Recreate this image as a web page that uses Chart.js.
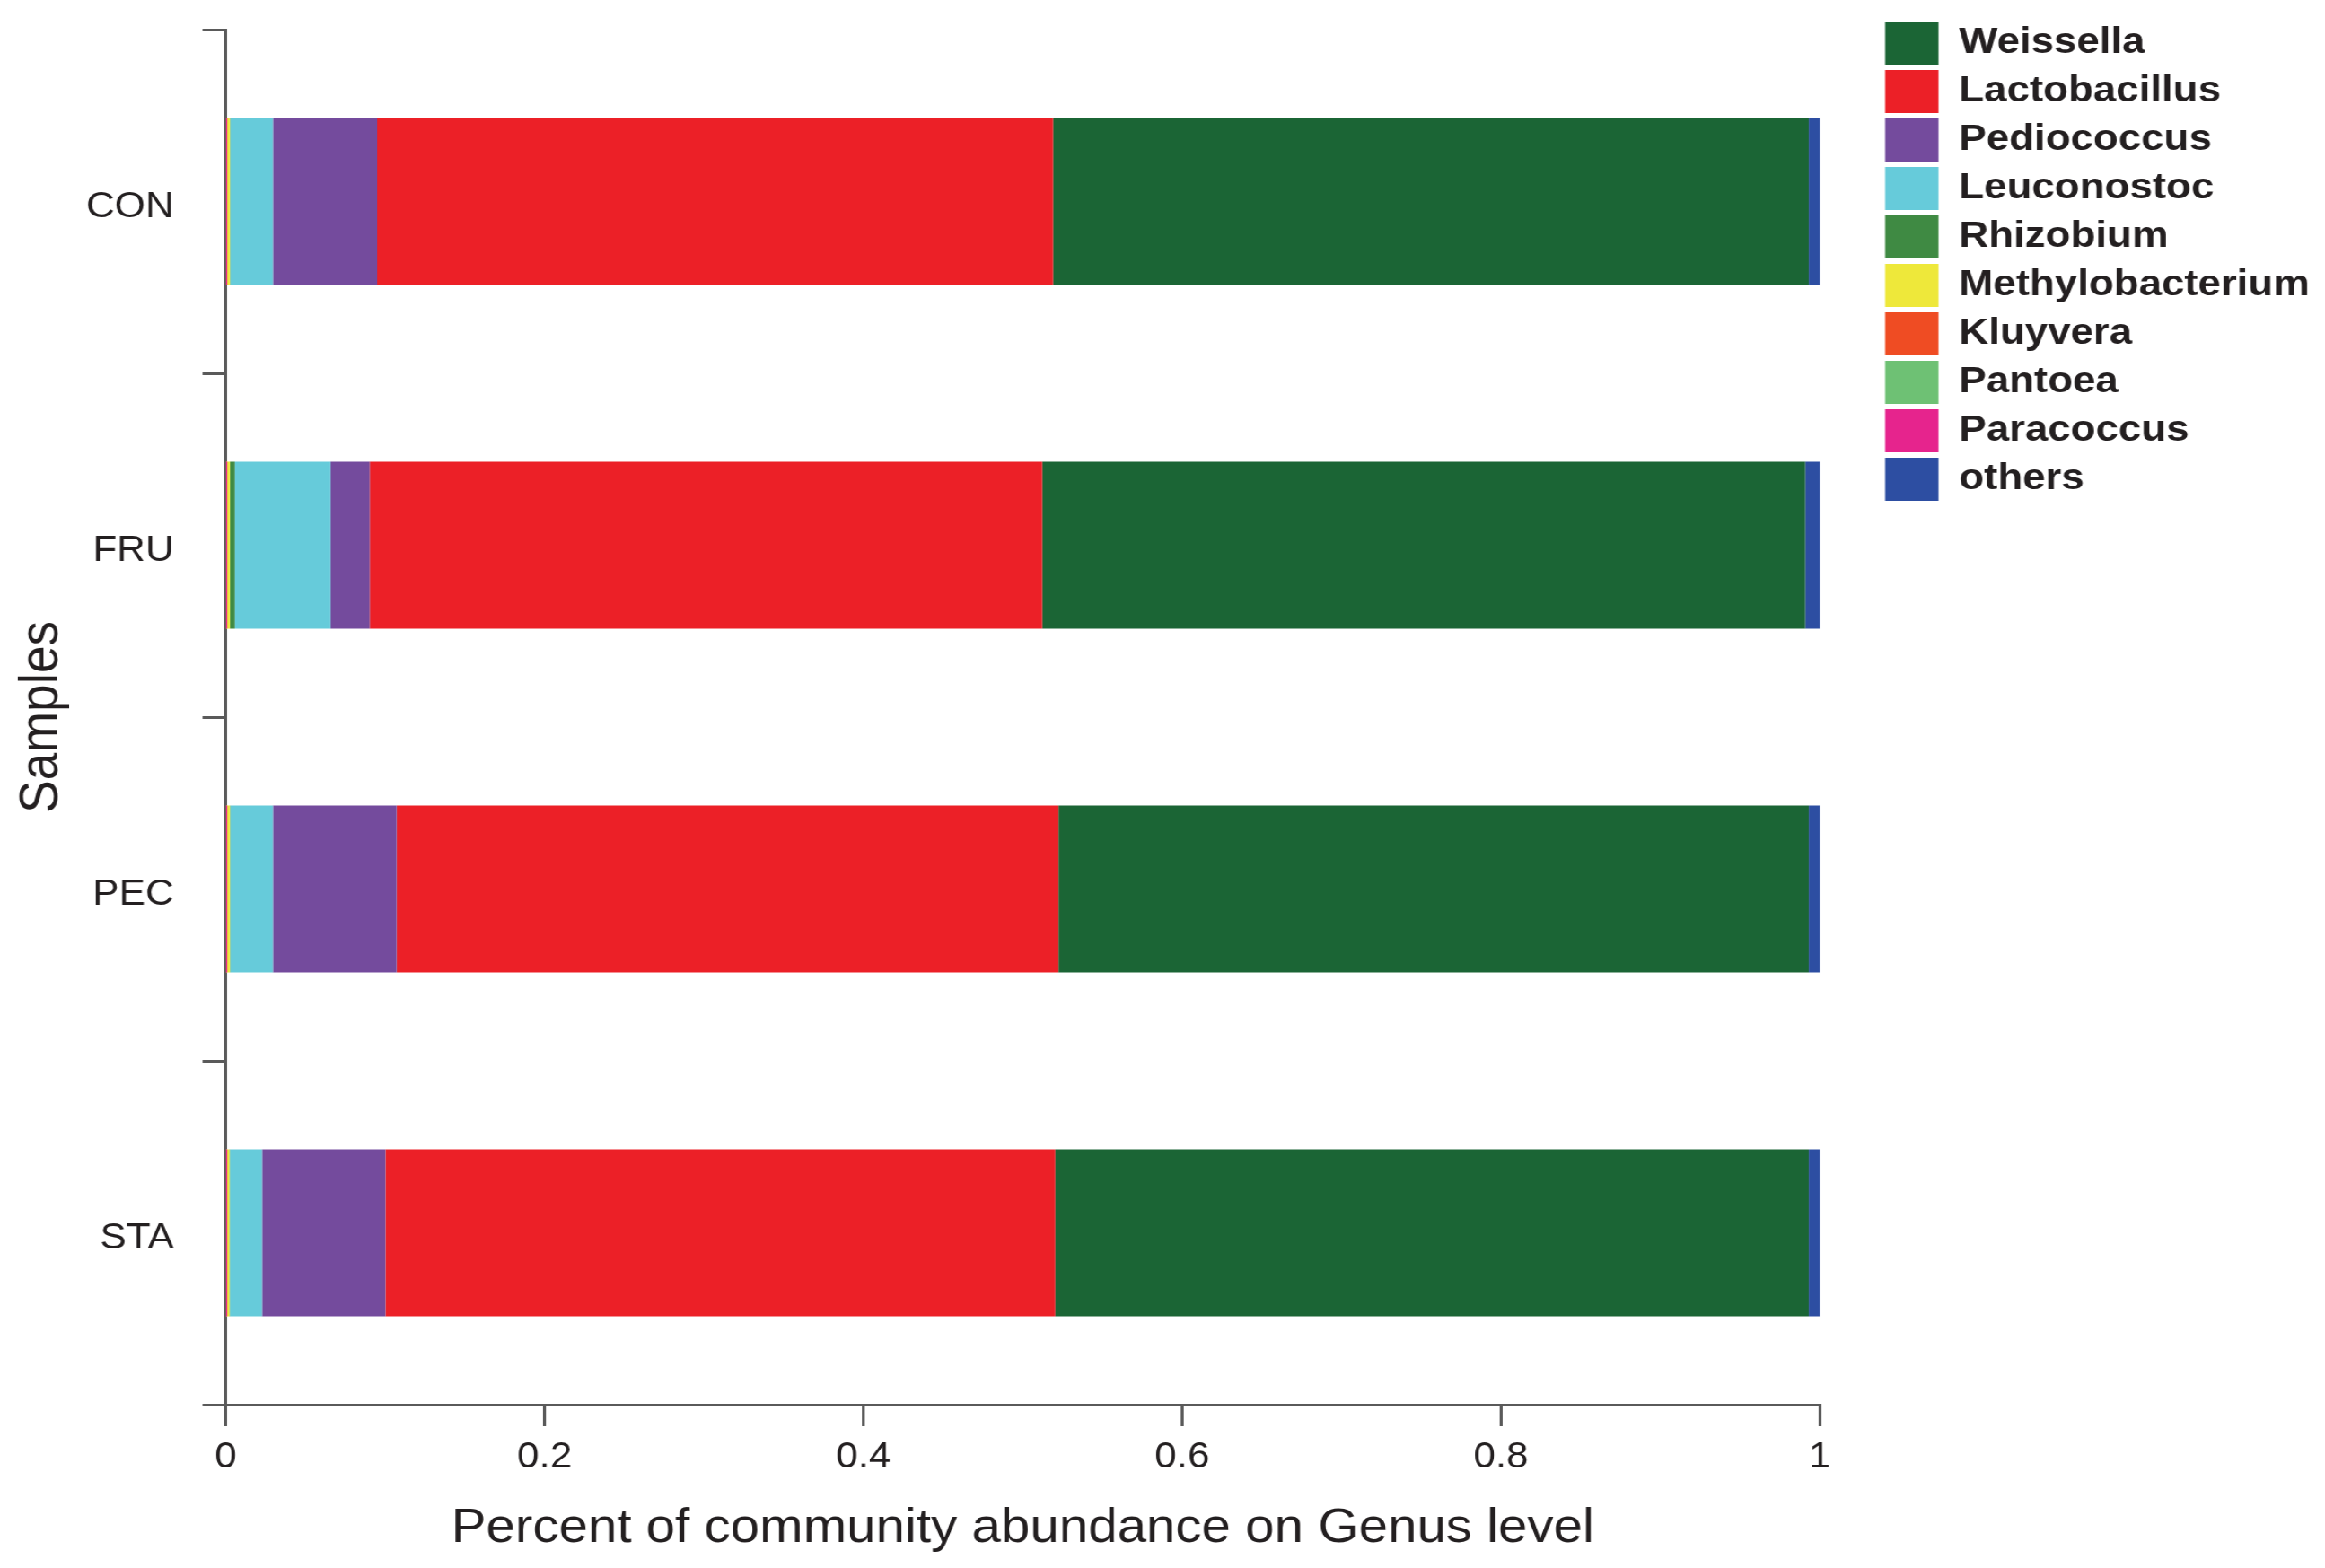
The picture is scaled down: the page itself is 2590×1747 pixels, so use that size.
<!DOCTYPE html>
<html>
<head>
<meta charset="utf-8">
<script src="https://cdn.jsdelivr.net/npm/chart.js@4.4.1/dist/chart.umd.min.js"></script>
<style>
  html, body { margin: 0; padding: 0; background: #ffffff; overflow: hidden; }
  #wrap { width: 2355px; height: 1747px; transform: scaleX(1.09979); transform-origin: 0 0; }
  canvas { display: block; }
</style>
</head>
<body>
<div id="wrap"><canvas id="c" width="2355" height="1747"></canvas></div>
<script>
// ---- data ----
const samples = ['CON', 'FRU', 'PEC', 'STA'];
const xTicks = [0, 0.2, 0.4, 0.6, 0.8, 1];

const weissella        = [0.4741, 0.4787, 0.4707, 0.4728];
const lactobacillus    = [0.4241, 0.4220, 0.4153, 0.4202];
const pediococcus      = [0.0654, 0.0245, 0.0776, 0.0774];
const leuconostoc      = [0.0268, 0.0601, 0.0268, 0.0203];
const rhizobium        = [0.0002, 0.0031, 0.0002, 0.0002];
const methylobacterium = [0.0025, 0.0025, 0.0025, 0.0022];
const kluyvera         = [0.00002, 0.00002, 0.00002, 0.00002];
const pantoea          = [0.00002, 0.00002, 0.00002, 0.00002];
const paracoccus       = [0.00002, 0.00002, 0.00002, 0.00002];
const others           = [0.0069, 0.0091, 0.0069, 0.0069];

const legendOrder = ['Weissella', 'Lactobacillus', 'Pediococcus', 'Leuconostoc', 'Rhizobium',
  'Methylobacterium', 'Kluyvera', 'Pantoea', 'Paracoccus', 'others'];

// stacking order, from the axis outwards
const series = [
  { label: 'Paracoccus',       data: paracoccus,       color: '#e6248d' },
  { label: 'Pantoea',          data: pantoea,          color: '#6ec174' },
  { label: 'Kluyvera',         data: kluyvera,         color: '#ef4c23' },
  { label: 'Methylobacterium', data: methylobacterium, color: '#eee83a' },
  { label: 'Rhizobium',        data: rhizobium,        color: '#3f8a43' },
  { label: 'Leuconostoc',      data: leuconostoc,      color: '#66cbda' },
  { label: 'Pediococcus',      data: pediococcus,      color: '#744b9d' },
  { label: 'Lactobacillus',    data: lactobacillus,    color: '#ec2027' },
  { label: 'Weissella',        data: weissella,        color: '#1b6535' },
  { label: 'others',           data: others,           color: '#2d4ea2' }
];

const FONT = "'Liberation Sans', Arial, Helvetica, sans-serif";
const TEXT = '#231f20';
const AXIS = '#5a5a5a';

const legendPlace = {
  id: 'legendPlace',
  afterLayout(chart) {
    const lg = chart.legend;
    if (!lg) return;
    const pad = lg.options.labels.padding;
    lg.left = 1909.5 - pad;
    lg.right = lg.left + lg.width;
    lg.top = 24 - pad;
    lg.bottom = lg.top + lg.height;
  }
};

new Chart(document.getElementById('c'), {
  type: 'bar',
  data: {
    labels: samples,
    datasets: series.map(s => ({
      label: s.label,
      data: s.data,
      backgroundColor: s.color,
      borderWidth: 0,
      barPercentage: 0.486,
      categoryPercentage: 1.0
    }))
  },
  plugins: [legendPlace],
  options: {
    indexAxis: 'y',
    responsive: false,
    animation: false,
    devicePixelRatio: 1,
    layout: { padding: { top: 33, right: 66, bottom: 0, left: 0 } },
    plugins: {
      tooltip: { enabled: false },
      legend: {
        position: 'right',
        align: 'start',
        labels: {
          boxWidth: 54,
          boxHeight: 48,
          padding: 6,
          color: TEXT,
          font: { family: FONT, size: 41.5, weight: 'bold' },
          sort: (a, b) => legendOrder.indexOf(a.text) - legendOrder.indexOf(b.text)
        }
      }
    },
    scales: {
      x: {
        type: 'linear',
        stacked: true,
        min: 0,
        max: 1,
        afterBuildTicks: (scale) => { scale.ticks = xTicks.map(v => ({ value: v })); },
        afterFit: (scale) => { scale.height = 182; },
        border: { display: true, color: AXIS, width: 3 },
        grid: { display: true, drawOnChartArea: false, drawTicks: true, tickLength: 24, color: AXIS, lineWidth: 3 },
        ticks: {
          color: TEXT, padding: 11, font: { family: FONT, size: 40 }, maxRotation: 0,
          callback: (v) => String(Math.round(v * 10) / 10)
        },
        title: {
          display: true,
          text: 'Percent of community abundance on Genus level',
          color: TEXT,
          font: { family: FONT, size: 53 },
          padding: { top: 0, bottom: 12 }
        }
      },
      y: {
        type: 'category',
        stacked: true,
        offset: true,
        afterFit: (scale) => { scale.width = 228.7; scale.paddingTop = 0; scale.paddingBottom = 0; },
        border: { display: true, color: AXIS, width: 3 },
        grid: { display: true, offset: true, drawOnChartArea: false, drawTicks: true, tickLength: 23.6, color: AXIS, lineWidth: 3 },
        ticks: { color: TEXT, padding: 29, labelOffset: 6, font: { family: FONT, size: 40 } },
        title: {
          display: true,
          text: 'Samples',
          color: TEXT,
          font: { family: FONT, size: 55 },
          padding: { top: 10, bottom: 0 }
        }
      }
    }
  }
});
</script>
</body>
</html>
